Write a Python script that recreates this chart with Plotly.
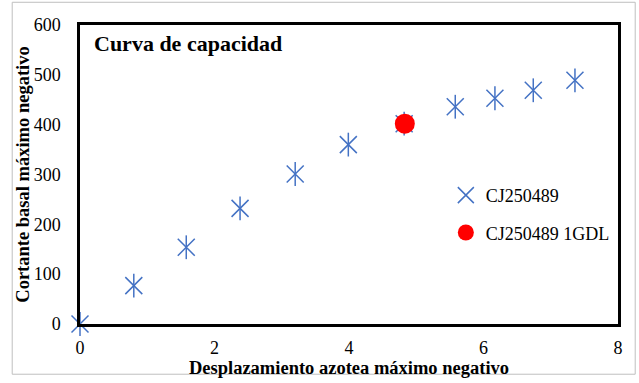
import plotly.graph_objects as go

# datos
desp = [0.0, 0.80, 1.58, 2.38, 3.20, 3.99, 4.82, 5.58, 6.17, 6.74, 7.36]
cortante = [0, 77, 154, 232, 301, 360, 402, 436, 453, 469, 489]
desp_1gdl = [4.83]
cortante_1gdl = [402]

AZUL = '#4472C4'
ROJO = '#FF0000'
FUENTE = 'Times New Roman, Liberation Serif, serif'

fig = go.Figure()
# estrella tipo Excel: "x" + linea vertical
fig.add_trace(go.Scatter(
    x=desp, y=cortante, mode='markers', name='CJ250489', legend='legend',
    cliponaxis=False,
    marker=dict(symbol='x-thin-open', size=17, color=AZUL,
                line=dict(width=1.5, color=AZUL)),
))
fig.add_trace(go.Scatter(
    x=desp, y=cortante, mode='markers', showlegend=False, cliponaxis=False,
    marker=dict(symbol='line-ns-open', size=17, color=AZUL,
                line=dict(width=1.5, color=AZUL)),
))
fig.add_trace(go.Scatter(
    x=desp_1gdl, y=cortante_1gdl, mode='markers', name='CJ250489 1GDL',
    legend='legend2',
    marker=dict(symbol='circle', size=20, color=ROJO),
))

# borde exterior gris del grafico
fig.add_shape(type='rect', xref='paper', yref='paper',
              x0=-0.126, x1=1.032, y0=-0.168, y1=1.076,
              line=dict(color='#BFBFBF', width=1), layer='below')

fig.add_annotation(text='<b>Curva de capacidad</b>', xref='paper', yref='paper',
                   x=0.022, y=0.985, xanchor='left', yanchor='top', showarrow=False,
                   font=dict(family=FUENTE, size=22, color='black'))

leyenda = dict(xanchor='left', yanchor='middle', bgcolor='rgba(0,0,0,0)',
               font=dict(family=FUENTE, size=18, color='black'), itemwidth=30)

fig.update_layout(
    width=639, height=383,
    margin=dict(l=80, r=21, t=25, b=55),
    paper_bgcolor='white', plot_bgcolor='white',
    font=dict(family=FUENTE, color='black', size=18),
    showlegend=True,
    legend=dict(x=0.68, y=0.43, **leyenda),
    legend2=dict(x=0.68, y=0.305, **leyenda),
    xaxis=dict(range=[0, 8], dtick=2, showgrid=False, zeroline=False,
               showline=True, mirror=True, linecolor='black', linewidth=2.5,
               ticks='', ticklabelstandoff=6,
               tickfont=dict(family=FUENTE, size=18),
               title=dict(text='<b>Desplazamiento azotea máximo negativo</b>',
                          font=dict(family=FUENTE, size=18.5), standoff=0)),
    yaxis=dict(range=[0, 600], dtick=100, showgrid=False, zeroline=False,
               showline=True, mirror=True, linecolor='black', linewidth=2.5,
               ticks='', ticklabelstandoff=13,
               tickfont=dict(family=FUENTE, size=18),
               title=dict(text='<b>Cortante basal máximo negativo</b>',
                          font=dict(family=FUENTE, size=18.5), standoff=0)),
)

fig.write_html('out.html', config={'displayModeBar': False},
               post_script="document.body.style.margin='0';")
